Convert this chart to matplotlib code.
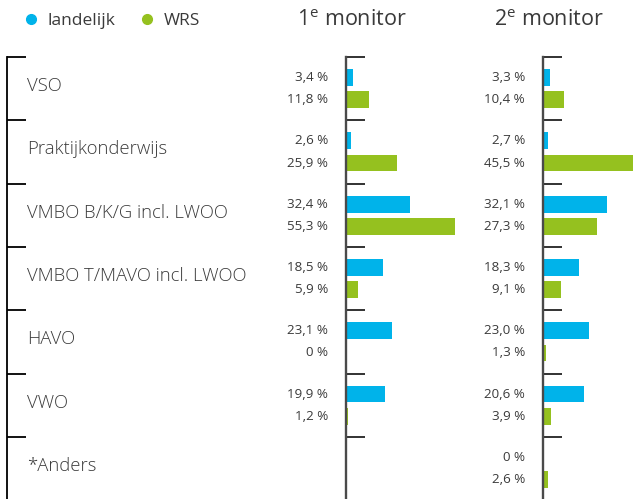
import matplotlib.pyplot as plt
from matplotlib.lines import Line2D

plt.rcParams['font.family'] = ['Open Sans', 'DejaVu Sans']
plt.rcParams['mathtext.fontset'] = 'custom'
plt.rcParams['mathtext.rm'] = 'Open Sans'

# data
categories = ['VSO', 'Praktijkonderwijs', 'VMBO B/K/G incl. LWOO',
              'VMBO T/MAVO incl. LWOO', 'HAVO', 'VWO', '*Anders']
m1_land = [3.4, 2.6, 32.4, 18.5, 23.1, 19.9, None]
m1_wrs = [11.8, 25.9, 55.3, 5.9, 0, 1.2, None]
m2_land = [3.3, 2.7, 32.1, 18.3, 23.0, 20.6, 0]
m2_wrs = [10.4, 45.5, 27.3, 9.1, 1.3, 3.9, 2.6]
titles = ['1$^{\\mathrm{e}}$ monitor', '2$^{\\mathrm{e}}$ monitor']

c_land = '#00b3ea'
c_wrs = '#95c11f'
txt = '#3a3a3a'

W, H = 633, 499
fig = plt.figure(figsize=(W / 100, H / 100), dpi=100)

top = 57
n = len(categories)
band = 63.3
ymax = (H - top) / band


def px_axes(x0, x1):
    return fig.add_axes([x0 / W, 0, (x1 - x0) / W, (H - top) / H])


def fmt(v):
    if v == 0:
        return '0 %'
    return ('%.1f' % v).replace('.', ',') + ' %'


# left bracket with category names
axl = px_axes(7, 300)
axl.set_xlim(0, 293)
axl.set_ylim(ymax, 0)
for s in ['top', 'right', 'bottom']:
    axl.spines[s].set_visible(False)
axl.spines['left'].set_linewidth(1.3)
axl.spines['left'].set_color('black')
axl.set_xticks([])
axl.set_yticks(range(n))
axl.tick_params(axis='y', direction='in', length=19 * 0.72, width=1.3,
                color='black', labelleft=False)
for i, c in enumerate(categories):
    axl.text(20, i + 0.46, c, fontsize=13.3, color=txt, va='center',
             ha='left', fontweight='light')

scale = 1.98  # px per percent
panels = [(346, 496, m1_land, m1_wrs), (543, 633, m2_land, m2_wrs)]
for k, (x0, x1, land, wrs) in enumerate(panels):
    ax = px_axes(x0, x1)
    ax.set_xlim(0, (x1 - x0) / scale)
    ax.set_ylim(ymax, 0)
    for s in ['top', 'right', 'bottom']:
        ax.spines[s].set_visible(False)
    ax.spines['left'].set_linewidth(1.7)
    ax.spines['left'].set_color('#4a4a4a')
    ax.set_xticks([])
    ax.set_yticks(range(n))
    ax.tick_params(axis='y', direction='in', length=19 * 0.72, width=1.3,
                   color='#222222', labelleft=False)
    for i in range(n):
        for v, off, col in [(land[i], 0.325, c_land), (wrs[i], 0.675, c_wrs)]:
            if v is None:
                continue
            ax.barh(i + off, v, height=0.265, color=col, clip_on=True)
            ax.annotate(fmt(v), (0, i + off), xytext=(-13, 0),
                        textcoords='offset points', ha='right', va='center',
                        fontsize=9.6, color=txt, annotation_clip=False)
    fig.text((x0 + 6) / W, 1 - 20 / H, titles[k], fontsize=15.5, color=txt,
             ha='center', va='center')

handles = [Line2D([], [], marker='o', ls='', color=c_land, markersize=7),
           Line2D([], [], marker='o', ls='', color=c_wrs, markersize=7)]
fig.legend(handles, ['landelijk', 'WRS'], loc='center left',
           bbox_to_anchor=(14 / W, 1 - 21 / H), ncol=2, frameon=False,
           fontsize=12.5, handletextpad=0.45, columnspacing=1.3,
           labelcolor=txt, borderpad=0, handlelength=1.0)

fig.savefig('out.png', dpi=100)
